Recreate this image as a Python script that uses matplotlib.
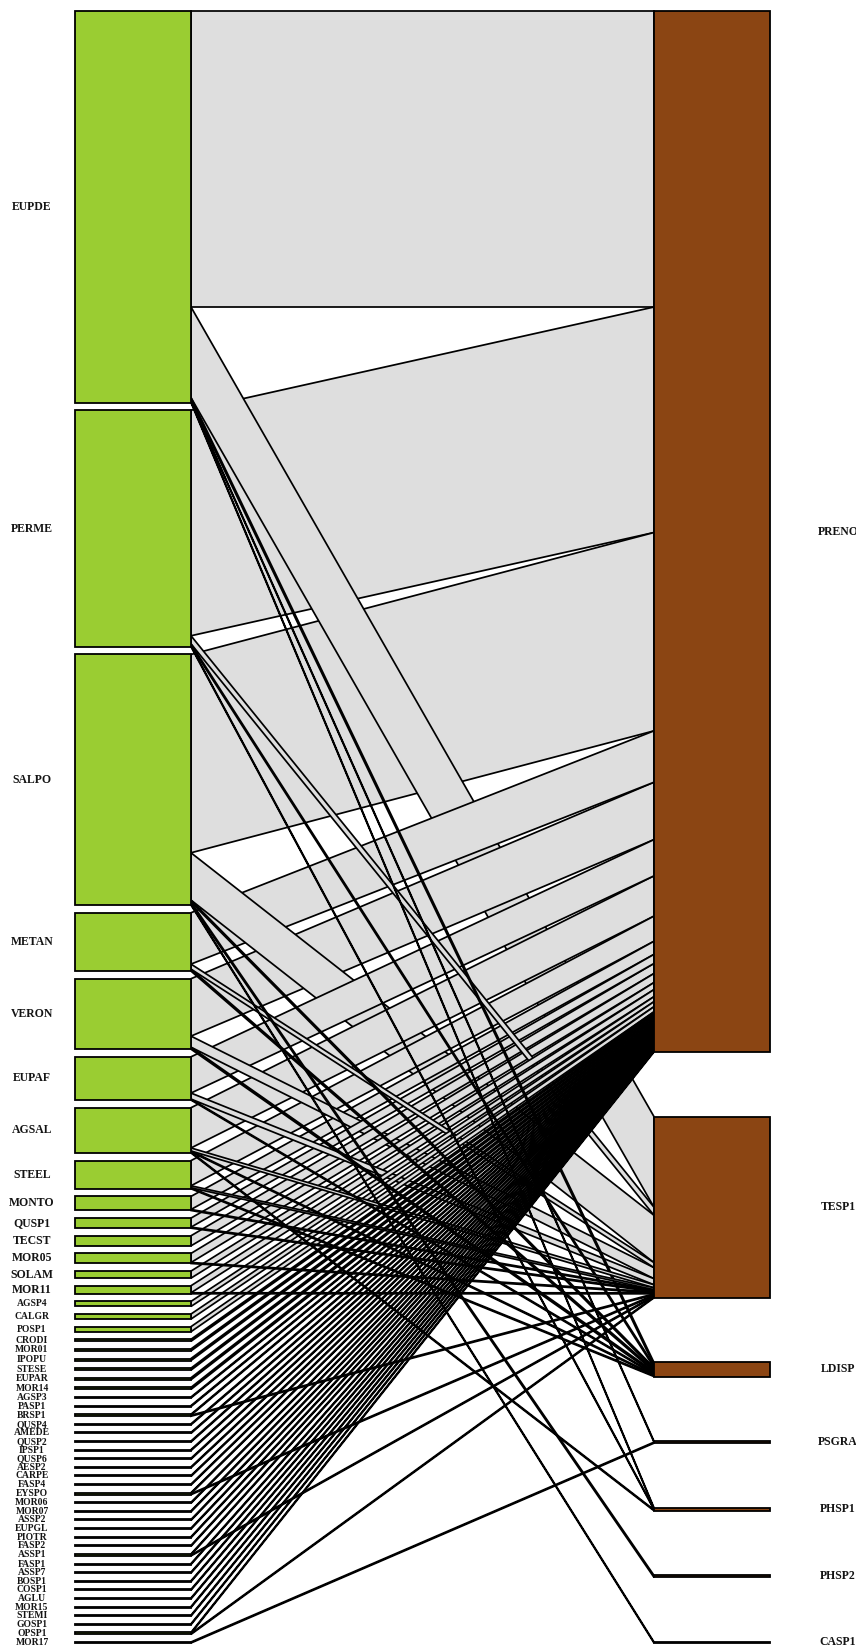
import numpy as np
import matplotlib
matplotlib.use("Agg")
import matplotlib.pyplot as plt
from matplotlib.patches import Polygon, Rectangle

# ---------------- data ----------------
lower = ["EUPDE", "PERME", "SALPO", "METAN", "VERON", "EUPAF", "AGSAL", "STEEL",
         "MONTO", "QUSP1", "TECST", "MOR05", "SOLAM", "MOR11", "AGSP4", "CALGR",
         "POSP1", "CRODI", "MOR01", "IPOPU", "STESE", "EUPAR", "MOR14", "AGSP3",
         "PASP1", "BRSP1", "QUSP4", "AMEDE", "QUSP2", "IPSP1", "QUSP6", "AESP2",
         "CARPE", "FASP4", "EYSPO", "MOR06", "MOR07", "ASSP2", "EUPGL", "PIOTR",
         "FASP2", "ASSP1", "FASP1", "ASSP7", "BOSP1", "COSP1", "AGLU", "MOR15",
         "STEMI", "GOSP1", "OPSP1", "MOR17"]
higher = ["PRENO", "TESP1", "LDISP", "PSGRA", "PHSP1", "PHSP2", "CASP1"]

# interactions of each lower species with each higher species (one list per higher species)
preno = [294, 224, 197, 51, 57, 36, 40, 25, 13, 9, 10, 9, 7, 7, 5, 5,
         5, 2, 2, 2, 2, 2, 2, 1, 1, 1, 1, 1, 1, 1, 1, 1,
         1, 1, 1, 1, 1, 1, 1, 1, 1, 1, 1, 1, 1, 1, 1, 1,
         1, 1, 1, 0]
tesp1 = [90, 8, 47, 5, 11, 6, 3, 2, 1, 1, 0, 1, 0, 1, 0, 0,
         0, 0, 0, 0, 0, 0, 0, 0, 0, 1, 0, 0, 0, 0, 0, 0,
         0, 0, 1, 0, 0, 0, 0, 0, 0, 1, 0, 0, 0, 0, 0, 0,
         0, 0, 1, 0]
ldisp = [3, 2, 2, 2, 2, 1, 1, 1] + [0] * 44
psgra = [1] + [0] * 50 + [1]
phsp1 = [1, 1, 0, 0, 0, 0, 1] + [0] * 45
phsp2 = [0, 0, 2] + [0] * 49
casp1 = [0, 0, 1] + [0] * 49

# ---------------- layout / style ----------------
W = np.array([preno, tesp1, ldisp, psgra, phsp1, phsp2, casp1], dtype=float).T
nL, nR = W.shape
low_tot = W.sum(axis=1)
high_tot = W.sum(axis=0)
total = W.sum()

TOP, BOT = 11.0, 1643.0
XL0, XL1 = 75.0, 191.0
XR0, XR1 = 654.0, 770.0
gapL = 7.6
s = (BOT - TOP - (nL - 1) * gapL) / total
gapR = (BOT - TOP - s * total) / (nR - 1)

low_y0 = TOP + np.concatenate([[0.0], np.cumsum(low_tot[:-1] * s + gapL)])
high_y0 = TOP + np.concatenate([[0.0], np.cumsum(high_tot[:-1] * s + gapR)])

low_off = low_y0[:, None] + np.cumsum(W * s, axis=1) - W * s
high_off = high_y0[None, :] + np.cumsum(W * s, axis=0) - W * s

fig = plt.figure(figsize=(8.56, 16.46), dpi=100)
ax = fig.add_axes([0, 0, 1, 1])
ax.set_xlim(0, 856)
ax.set_ylim(1646, 0)
ax.axis("off")

links = [(W[i, j], i, j) for i in range(nL) for j in range(nR) if W[i, j] > 0]
links.sort(key=lambda t: -t[0])
for w, i, j in links:
    yl0 = low_off[i, j]
    yl1 = yl0 + w * s
    yh0 = high_off[i, j]
    yh1 = yh0 + w * s
    ax.add_patch(Polygon([(XL1, yl0), (XR0, yh0), (XR0, yh1), (XL1, yl1)],
                         closed=True, facecolor="#DEDEDE", edgecolor="black",
                         linewidth=1.25, joinstyle="miter", zorder=2))

font = dict(family="Liberation Serif", weight="bold", color="#141414")
low_c = low_y0 + low_tot * s / 2
for i, name in enumerate(lower):
    h = low_tot[i] * s
    ax.add_patch(Rectangle((XL0, low_y0[i]), XL1 - XL0, h, facecolor="#9ACD32",
                           edgecolor="black", linewidth=1.3, zorder=3))
    nb = []
    if i > 0:
        nb.append(low_c[i] - low_c[i - 1])
    if i < nL - 1:
        nb.append(low_c[i + 1] - low_c[i])
    fs = 8.5 if min(nb) >= 13 else 6.9
    ax.text(32, low_c[i], name, ha="center", va="center", fontsize=fs, **font)

for j, name in enumerate(higher):
    h = high_tot[j] * s
    ax.add_patch(Rectangle((XR0, high_y0[j]), XR1 - XR0, h, facecolor="#8B4513",
                           edgecolor="black", linewidth=1.3, zorder=3))
    ax.text(838, high_y0[j] + h / 2, name, ha="center", va="center", fontsize=8.5, **font)

fig.savefig("out.png", dpi=100, facecolor="white")
